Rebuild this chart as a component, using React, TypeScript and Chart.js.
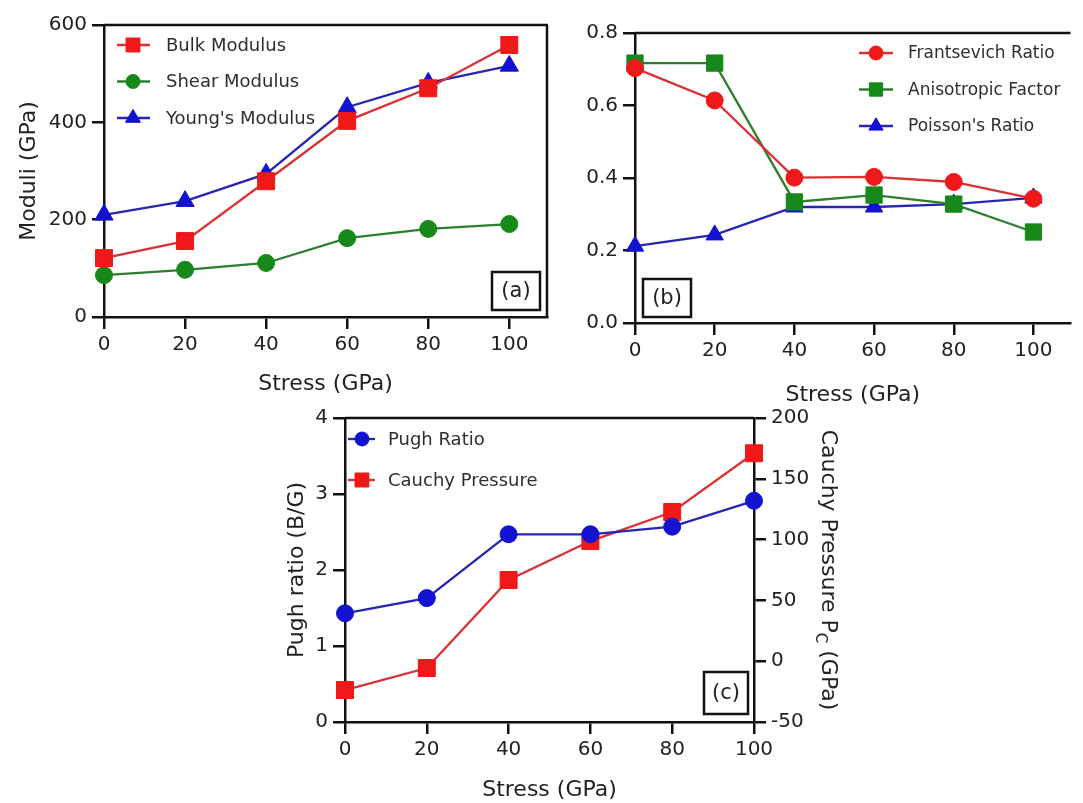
import React, { useEffect, useRef } from 'react';
import { Chart, registerables } from 'chart.js';
import { drawPoint } from 'chart.js/helpers';

Chart.register(...registerables);

// ---------------- data ----------------
const stress = [0, 20, 40, 60, 80, 100];
const stressTicks = [0, 20, 40, 60, 80, 100];

const bulkModulus = [121, 156, 279, 403, 470, 559];
const shearModulus = [86, 97, 111, 162, 181, 191];
const youngsModulus = [210, 238, 294, 431, 481, 516];
const moduliTicks = [0, 200, 400, 600];

const frantsevichRatio = [0.703, 0.614, 0.401, 0.403, 0.389, 0.343];
const anisotropicFactor = [0.717, 0.717, 0.334, 0.353, 0.328, 0.251];
const poissonsRatio = [0.212, 0.243, 0.32, 0.32, 0.328, 0.345];
const ratioTicks = [0, 0.2, 0.4, 0.6, 0.8];

const pughRatio = [1.43, 1.63, 2.47, 2.47, 2.57, 2.91];
const cauchyPressure = [-23.7, -5.6, 66.8, 98.8, 122.7, 171];
const pughTicks = [0, 1, 2, 3, 4];
const cauchyTicks = [-50, 0, 50, 100, 150, 200];

// ---------------- style ----------------
const FONT = '"DejaVu Sans", Verdana, sans-serif';
const AXIS = '#111111';
const TEXT = '#222222';
const RED = '#f01818';
const RED_LINE = '#d93232';
const GREEN = '#16891a';
const GREEN_LINE = '#2e7e30';
const BLUE = '#1212d0';
const BLUE_LINE = '#2626b0';
const TICK_SIZE = 20;
const TITLE_SIZE = 22;

function series(label: string, values: number[], color: string, line: string, style: string, radius: number, yAxisID = 'y') {
  return {
    label,
    yAxisID,
    data: stress.map((x, i) => ({ x, y: values[i] })),
    borderColor: line,
    backgroundColor: color,
    pointBackgroundColor: color,
    pointBorderColor: color,
    pointBorderWidth: 1,
    pointStyle: style,
    pointRadius: radius,
    pointHoverRadius: radius,
    borderWidth: 2.3,
    tension: 0,
    clip: false,
  };
}

function xScale(max: number, height: number) {
  return {
    type: 'linear',
    position: 'bottom',
    min: 0,
    max,
    afterBuildTicks: (s: any) => { s.ticks = stressTicks.map((v) => ({ value: v })); },
    afterFit: (s: any) => { s.height = height; },
    ticks: { color: TEXT, font: { family: FONT, size: TICK_SIZE }, padding: 4, maxRotation: 0, autoSkip: false },
    grid: { drawOnChartArea: false, drawTicks: true, tickLength: 12, color: AXIS, lineWidth: 2.5 },
    border: { display: true, color: AXIS, width: 2.5 },
  };
}

function yScale(min: number, max: number, ticks: number[], width: number, position: string, fmt: (v: number) => string) {
  return {
    type: 'linear',
    position,
    min,
    max,
    afterBuildTicks: (s: any) => { s.ticks = ticks.map((v) => ({ value: v })); },
    afterFit: (s: any) => { s.width = width; },
    ticks: { color: TEXT, font: { family: FONT, size: TICK_SIZE }, padding: 5, autoSkip: false, callback: (v: any) => fmt(Number(v)) },
    grid: { drawOnChartArea: false, drawTicks: true, tickLength: 12, color: AXIS, lineWidth: 2.5 },
    border: { display: true, color: AXIS, width: 2.5 },
  };
}

// ---------------- plugins ----------------
const framePlugin = {
  id: 'frame',
  beforeDatasetsDraw(chart: any, _a: any, o: any) {
    const { ctx, chartArea: a } = chart;
    ctx.save();
    ctx.strokeStyle = AXIS;
    ctx.lineWidth = 2.5;
    ctx.beginPath();
    if (o.top) { ctx.moveTo(a.left, a.top); ctx.lineTo(a.right + (o.right ? 1 : 0), a.top); }
    if (o.right) { ctx.moveTo(a.right, a.top); ctx.lineTo(a.right, a.bottom + 1); }
    ctx.stroke();
    ctx.restore();
  },
};

const legendPlugin = {
  id: 'insideLegend',
  afterDatasetsDraw(chart: any, _a: any, o: any) {
    const { ctx, chartArea: a } = chart;
    ctx.save();
    chart.data.datasets.forEach((ds: any, i: number) => {
      const y = a.top + o.y0 + i * o.dy;
      ctx.strokeStyle = ds.borderColor;
      ctx.lineWidth = 2.3;
      ctx.beginPath();
      ctx.moveTo(a.left + o.x0, y);
      ctx.lineTo(a.left + o.x1, y);
      ctx.stroke();
      ctx.fillStyle = ds.pointBackgroundColor;
      ctx.strokeStyle = ds.pointBorderColor;
      ctx.lineWidth = 1;
      drawPoint(ctx, { pointStyle: ds.pointStyle, radius: ds.pointRadius * o.scale, rotation: 0, borderWidth: 1 } as any, a.left + o.xm, y);
      ctx.fillStyle = '#2e2e2e';
      ctx.font = `${o.size}px ${FONT}`;
      ctx.textAlign = 'left';
      ctx.textBaseline = 'middle';
      ctx.fillText(ds.label, a.left + o.xt, y + 1);
    });
    ctx.restore();
  },
};

const panelLabelPlugin = {
  id: 'panelLabel',
  afterDatasetsDraw(chart: any, _a: any, o: any) {
    const { ctx, chartArea: a } = chart;
    const left = o.anchor === 'left' ? a.left + o.dx : a.right - o.dx - o.w;
    const top = a.bottom - o.dy - o.h;
    ctx.save();
    ctx.fillStyle = '#ffffff';
    ctx.fillRect(left, top, o.w, o.h);
    ctx.strokeStyle = AXIS;
    ctx.lineWidth = 2.5;
    ctx.strokeRect(left, top, o.w, o.h);
    ctx.fillStyle = TEXT;
    ctx.font = `21px ${FONT}`;
    ctx.textAlign = 'center';
    ctx.textBaseline = 'middle';
    ctx.fillText(o.text, left + o.w / 2, top + o.h / 2 + 1);
    ctx.restore();
  },
};

const titlesPlugin = {
  id: 'axisTitles',
  afterDraw(chart: any, _a: any, o: any) {
    const { ctx, chartArea: a } = chart;
    (o.items || []).forEach((it: any) => {
      let x = 0, y = 0, rot = 0;
      if (it.side === 'bottom') { x = (a.left + a.right) / 2; y = a.bottom + it.offset; }
      else if (it.side === 'left') { x = a.left - it.offset; y = (a.top + a.bottom) / 2; rot = -Math.PI / 2; }
      else { x = a.right + it.offset; y = (a.top + a.bottom) / 2; rot = Math.PI / 2; }
      ctx.save();
      ctx.translate(x, y);
      ctx.rotate(rot);
      ctx.fillStyle = TEXT;
      ctx.textBaseline = 'middle';
      ctx.textAlign = 'left';
      const main = `${TITLE_SIZE}px ${FONT}`;
      const small = `${Math.round(TITLE_SIZE * 0.68)}px ${FONT}`;
      const widths = it.parts.map((p: any) => { ctx.font = p.sub ? small : main; return ctx.measureText(p.t).width; });
      const total = widths.reduce((s: number, w: number) => s + w, 0);
      let cx = -total / 2;
      it.parts.forEach((p: any, i: number) => {
        ctx.font = p.sub ? small : main;
        ctx.fillText(p.t, cx, p.sub ? 8 : 0);
        cx += widths[i];
      });
      ctx.restore();
    });
  },
};

const PLUGINS = [framePlugin, legendPlugin, panelLabelPlugin, titlesPlugin];

// ---------------- configs ----------------
const configA: any = {
  type: 'line',
  data: {
    datasets: [
      series('Bulk Modulus', bulkModulus, RED, RED_LINE, 'rect', 12),
      series('Shear Modulus', shearModulus, GREEN, GREEN_LINE, 'circle', 8.5),
      series("Young's Modulus", youngsModulus, BLUE, BLUE_LINE, 'triangle', 10.5),
    ],
  },
  options: {
    responsive: false,
    animation: false,
    layout: { padding: { left: 0, top: 25, right: 10, bottom: 0 } },
    scales: {
      x: xScale(109.3, 83),
      y: yScale(0, 600, moduliTicks, 104, 'left', (v) => String(v)),
    },
    plugins: {
      legend: { display: false },
      tooltip: { enabled: false },
      frame: { top: true, right: true },
      insideLegend: { x0: 13, x1: 46, xm: 29, xt: 62, y0: 20, dy: 36.5, scale: 0.82, size: 18 },
      panelLabel: { text: '(a)', anchor: 'right', dx: 7, dy: 7, w: 48, h: 38 },
      axisTitles: { items: [
        { side: 'bottom', offset: 67, parts: [{ t: 'Stress (GPa)' }] },
        { side: 'left', offset: 75, parts: [{ t: 'Moduli (GPa)' }] },
      ] },
    },
  },
  plugins: PLUGINS,
};

const configB: any = {
  type: 'line',
  data: {
    datasets: [
      series('Frantsevich Ratio', frantsevichRatio, RED, RED_LINE, 'circle', 8.5),
      series('Anisotropic Factor', anisotropicFactor, GREEN, GREEN_LINE, 'rect', 11.5),
      series("Poisson's Ratio", poissonsRatio, BLUE, BLUE_LINE, 'triangle', 10),
    ],
  },
  options: {
    responsive: false,
    animation: false,
    layout: { padding: { left: 0, top: 33, right: 0, bottom: 0 } },
    scales: {
      x: xScale(109.3, 87),
      y: yScale(0, 0.8, ratioTicks, 75, 'left', (v) => v.toFixed(1)),
    },
    plugins: {
      legend: { display: false },
      tooltip: { enabled: false },
      frame: { top: true, right: false },
      insideLegend: { x0: 224, x1: 258, xm: 241, xt: 273, y0: 20, dy: 36.5, scale: 0.82, size: 17 },
      panelLabel: { text: '(b)', anchor: 'left', dx: 8, dy: 6, w: 48, h: 38 },
      axisTitles: { items: [
        { side: 'bottom', offset: 72, parts: [{ t: 'Stress (GPa)' }] },
      ] },
    },
  },
  plugins: PLUGINS,
};

const configC: any = {
  type: 'line',
  data: {
    datasets: [
      series('Pugh Ratio', pughRatio, BLUE, BLUE_LINE, 'circle', 8.5, 'y'),
      series('Cauchy Pressure', cauchyPressure, RED, RED_LINE, 'rect', 12, 'y1'),
    ],
  },
  options: {
    responsive: false,
    animation: false,
    layout: { padding: { left: 0, top: 18, right: 0, bottom: 0 } },
    scales: {
      x: xScale(100, 81),
      y: yScale(0, 4, pughTicks, 95, 'left', (v) => String(v)),
      y1: yScale(-50, 200, cauchyTicks, 106, 'right', (v) => String(v)),
    },
    plugins: {
      legend: { display: false },
      tooltip: { enabled: false },
      frame: { top: true, right: false },
      insideLegend: { x0: 3, x1: 30, xm: 17, xt: 43, y0: 21, dy: 41, scale: 0.82, size: 18 },
      panelLabel: { text: '(c)', anchor: 'right', dx: 6, dy: 8, w: 44, h: 42 },
      axisTitles: { items: [
        { side: 'bottom', offset: 68, parts: [{ t: 'Stress (GPa)' }] },
        { side: 'left', offset: 48, parts: [{ t: 'Pugh ratio (B/G)' }] },
        { side: 'right', offset: 74, parts: [{ t: 'Cauchy Pressure P' }, { t: 'C', sub: true }, { t: ' (GPa)' }] },
      ] },
    },
  },
  plugins: PLUGINS,
};

// ---------------- components ----------------
function ChartCanvas({ config, left, top, width, height }: { config: any; left: number; top: number; width: number; height: number }) {
  const ref = useRef<HTMLCanvasElement>(null);
  useEffect(() => {
    if (!ref.current) return;
    const chart = new Chart(ref.current, config);
    return () => chart.destroy();
  }, [config]);
  return (
    <div style={{ position: 'absolute', left, top, width, height }}>
      <canvas ref={ref} width={width} height={height} style={{ width, height, display: 'block' }} />
    </div>
  );
}

export default function App() {
  return (
    <div style={{ position: 'absolute', left: 0, top: 0, width: 1083, height: 803, overflow: 'hidden', background: '#ffffff' }}>
      <ChartCanvas config={configA} left={0} top={0} width={560} height={400} />
      <ChartCanvas config={configB} left={560} top={0} width={523} height={410} />
      <ChartCanvas config={configC} left={250} top={400} width={610} height={403} />
    </div>
  );
}
